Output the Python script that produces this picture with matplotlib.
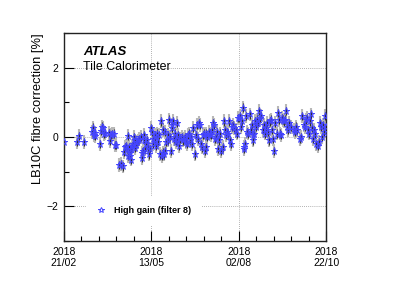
import matplotlib
matplotlib.use("Agg")
import matplotlib.pyplot as plt
import matplotlib.dates as mdates
import numpy as np
import datetime as dt

plt.rcParams['font.family'] = ['Liberation Sans', 'DejaVu Sans']

start_date = "2018-02-21"
end_date = "2018-10-22"
tick_dates = ["2018-02-21", "2018-05-13", "2018-08-02", "2018-10-22"]
tick_labels = ["2018\n21/02", "2018\n13/05", "2018\n02/08", "2018\n22/10"]

# day offsets from start_date and fibre correction values [%]
days = [0.5, 12, 14, 19,
        26, 27, 28, 28.5, 29, 33, 34, 35, 36, 37, 38, 42, 43, 44, 45, 46,
        47.5, 48.5, 51.5, 53, 55, 56, 57, 57.5, 58, 59, 59.5, 60, 61, 61.5, 62, 62.5,
        63, 64, 65, 65.5, 66, 67, 68, 69, 70, 71, 72, 72.5, 73, 74, 74.5, 75, 76, 77,
        78, 79, 80, 81, 82, 82.5, 83, 84, 84.5, 85, 86, 87, 88, 89, 90, 91, 91.5, 92,
        93, 93.5, 94, 95, 96, 96.5, 97, 98, 99, 100, 100.5, 101, 102, 103, 104, 104.5,
        105, 106, 107, 108, 109, 110, 111, 112, 113, 114, 115, 116, 117, 118, 119, 120,
        121, 122, 123, 124, 125, 126, 127, 128, 129, 130, 131, 131.5, 132, 133, 134, 135,
        136, 137, 138, 139, 140, 141, 142, 143, 144, 145, 146, 147, 148, 149, 150, 151,
        152, 153, 154, 155, 156, 157, 158, 159, 160, 161, 162, 163, 164, 165, 166, 166.5,
        167, 168, 169, 170, 171, 172, 173, 174, 175, 175.5, 176, 177, 178, 179, 180, 181,
        182, 183, 184, 185, 186, 187, 188, 189, 190, 191, 192, 193, 194, 195, 196, 197,
        198, 199, 200, 201, 202, 203, 204, 205, 206, 207, 208, 209, 210, 213, 214, 215,
        216, 219, 220, 221, 222, 223, 224, 225, 226, 227, 228, 229, 230, 231, 232, 233,
        234, 235, 236, 237, 238, 239, 240, 241, 242, 242.5]
values = [-0.13, -0.15, 0.03, -0.15,
          0.15, 0.27, 0.05, 0.12, 0.02, -0.2, 0.17, 0.3, 0.25, 0.08, 0.12, 0.12, -0.12, 0.05, 0.08, 0.1,
          -0.24, -0.23, -0.8, -0.78, -0.85, -0.42, -0.3, -0.25, -0.35, 0.02, -0.55, -0.3, -0.55, -0.45, -0.65, -0.35,
          -0.25, -0.2, 0.0, -0.1, -0.32, -0.22, -0.15, -0.1, -0.05, 0.0, -0.6, -0.45, -0.4, 0.05, -0.08, -0.35, -0.2, -0.1,
          -0.3, -0.5, -0.35, 0.25, 0.15, -0.05, -0.2, 0.05, -0.1, -0.25, 0.1, -0.15, 0.05, -0.5, 0.45, -0.55, -0.45, 0.2,
          -0.5, -0.4, 0.15, -0.15, 0.05, -0.1, 0.5, 0.0, -0.4, 0.25, 0.35, 0.45, -0.05, 0.1, -0.15, 0.4,
          -0.1, 0.05, -0.25, -0.05, 0.0, -0.1, -0.05, 0.0, -0.15, -0.2, 0.05, 0.1, -0.1, 0.0, -0.2, 0.25,
          -0.5, 0.05, 0.35, -0.05, 0.4, 0.35, -0.2, -0.3, 0.05, 0.1, -0.4, -0.3, 0.1, 0.0, 0.15, 0.1,
          0.05, 0.2, 0.4, 0.35, -0.05, 0.0, 0.15, -0.35, -0.1, 0.1, -0.4, -0.3, 0.45, 0.2, 0.05, 0.15,
          0.1, 0.45, -0.1, -0.2, 0.3, 0.35, 0.25, 0.2, 0.1, 0.55, 0.55, 0.6, 0.3, 0.45, 0.85, -0.3,
          -0.35, -0.2, 0.6, 0.15, 0.1, 0.65, 0.2, 0.35, 0.05, -0.1, 0.1, 0.45, 0.3, 0.5, 0.4, 0.75,
          0.55, 0.6, 0.2, 0.35, 0.1, 0.25, 0.4, 0.15, -0.1, 0.45, 0.5, 0.2, -0.05, -0.4, 0.4, 0.1,
          0.7, 0.5, 0.1, 0.05, 0.55, 0.5, 0.45, 0.5, 0.75, 0.3, 0.2, 0.4, 0.3, 0.2, 0.15, 0.3,
          0.2, -0.05, 0.0, 0.6, 0.35, 0.3, 0.5, 0.55, 0.2, 0.1, 0.45, 0.65, 0.25, -0.05, 0.2, 0.1,
          -0.2, -0.25, -0.15, 0.4, 0.3, 0.0, 0.35, 0.15, 0.6, 0.3]
stat_err = 0.12
syst_err = 0.2

legend_label = "High gain (filter 8)"
y_label = "LB10C fibre correction [%]"

t0 = dt.datetime.strptime(start_date, "%Y-%m-%d")
t1 = dt.datetime.strptime(end_date, "%Y-%m-%d")
x = [t0 + dt.timedelta(days=d) for d in days]
xnum = mdates.date2num(x)
y = np.array(values)

fig = plt.figure(figsize=(4.15, 2.94), dpi=100)
ax = fig.add_axes([0.154, 0.180, 0.632, 0.708])

ax.errorbar(xnum, y, yerr=syst_err, fmt='none', ecolor='#b8b8b8', elinewidth=1.5, capsize=0, zorder=2)
ax.errorbar(xnum, y, yerr=stat_err, fmt='none', ecolor='#303030', elinewidth=0.8, capsize=0, zorder=3)
ax.plot(xnum, y, linestyle='none', marker='*', markersize=5.2, markerfacecolor='none',
        markeredgecolor='#4545ff', markeredgewidth=0.7, zorder=4, label=legend_label)

ax.set_xlim(mdates.date2num(t0), mdates.date2num(t1))
ax.set_ylim(-3, 3)

tick_nums = [mdates.date2num(dt.datetime.strptime(s, "%Y-%m-%d")) for s in tick_dates]
ax.set_xticks(tick_nums)
ax.set_xticklabels(tick_labels, fontsize=7.5)
minor = []
for i in range(len(tick_nums) - 1):
    step = (tick_nums[i + 1] - tick_nums[i]) / 5
    minor += [tick_nums[i] + k * step for k in range(1, 5)]
ax.set_xticks(minor, minor=True)
ax.set_yticks([-2, 0, 2])
ax.set_yticklabels(["\u22122", "0", "2"], fontsize=7.5)
ax.set_yticks([-3, -1, 1, 3], minor=True)

ax.tick_params(axis='both', which='both', direction='in', top=False, right=False)
ax.tick_params(axis='x', which='major', length=7, width=0.8, pad=4)
ax.tick_params(axis='x', which='minor', length=3.5, width=0.8)
ax.tick_params(axis='y', which='major', length=7, width=0.8, pad=4)
ax.tick_params(axis='y', which='minor', length=3.5, width=0.8)

ax.grid(True, which='major', linestyle=(0, (1, 1.5)), color='#999999', linewidth=0.6)
ax.set_axisbelow(True)
for s in ax.spines.values():
    s.set_linewidth(1.0)
    s.set_color('#222222')

ax.set_ylabel(y_label, fontsize=9.3)
ax.yaxis.set_label_coords(-0.075, 0.635)

ax.text(0.073, 0.909, "ATLAS", transform=ax.transAxes, fontsize=9.5, fontweight='bold',
        fontstyle='italic', va='center', ha='left')
ax.text(0.073, 0.837, "Tile Calorimeter", transform=ax.transAxes, fontsize=8.9,
        va='center', ha='left')

leg = ax.legend(loc='center left', bbox_to_anchor=(0.085, 0.145), frameon=True,
                facecolor='white', edgecolor='none', framealpha=1.0, fancybox=False,
                prop={'weight': 'bold', 'size': 6.5}, handlelength=0.8, handletextpad=1.1,
                borderpad=1.2, borderaxespad=0, markerscale=0.8)
leg.set_zorder(5)

fig.savefig("out.png", dpi=100)
